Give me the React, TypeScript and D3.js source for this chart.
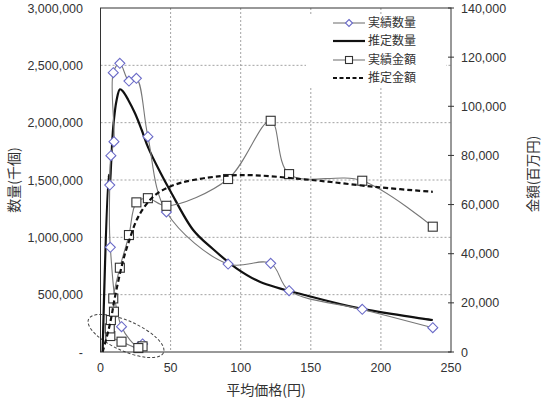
import React from "react";
import * as d3 from "d3";

// ---- data ----
const prices = [30.0, 27.0, 15.0, 7.0, 6.6, 7.4, 9.6, 9.1, 13.8, 20.3, 25.6, 33.8, 47.0, 91.0, 121.4, 134.5, 186.7, 237.0];
const actualQty = [70000, 45000, 221000, 913000, 1456000, 1712000, 1834000, 2436000, 2518000, 2363000, 2387000, 1878000, 1221000, 767000, 773000, 535000, 372000, 212000];
const actualAmount = [2300, 1600, 4200, 6500, 9600, 13000, 16400, 21800, 34300, 47600, 60900, 62600, 59500, 70400, 94100, 72400, 69700, 51000];

const estQtyPrice = [1.5, 5.8, 6.6, 7.6, 9.1, 11.5, 13.9, 16.2, 19.8, 24.6, 29.4, 34.1, 42.4, 50, 66.1, 80, 97, 113.6, 150.4, 184.8, 237];
const estQty = [0, 1544000, 1440000, 1650000, 1965000, 2198000, 2291000, 2270000, 2198000, 2082000, 1936000, 1780000, 1572000, 1400000, 1064000, 900000, 730000, 613000, 482000, 381000, 279000];

const estAmtPrice = [1.5, 5.6, 8, 10, 16.2, 20, 26.9, 37.6, 49.5, 66.1, 100, 150.4, 199, 237];
const estAmount = [0, 8600, 15000, 21500, 37400, 44500, 55000, 63200, 67300, 70000, 72000, 70000, 67000, 65200];

const xTicks = [0, 50, 100, 150, 200, 250];
const leftTicks = [0, 500000, 1000000, 1500000, 2000000, 2500000, 3000000];
const rightTicks = [0, 20000, 40000, 60000, 80000, 100000, 120000, 140000];
const legendLabels = ["実績数量", "推定数量", "実績金額", "推定金額"];
const xTitle = "平均価格(円)";
const leftTitle = "数量(千個)";
const rightTitle = "金額(百万円)";

const W = 543, H = 400;
const PL = 100.5, PR = 451, PT = 8, PB = 352;

const numFont = "'Liberation Sans', Arial, sans-serif";
const cjkFont = "'Noto Sans CJK JP', 'Noto Sans', sans-serif";
const textColor = "#333";

function Diamond({ cx, cy, r = 5 }: { cx: number; cy: number; r?: number }) {
  return (
    <path
      d={`M${cx},${cy - r}L${cx + r},${cy}L${cx},${cy + r}L${cx - r},${cy}Z`}
      fill="#fff"
      stroke="#6b6bc8"
      strokeWidth={1.1}
    />
  );
}

function Square({ cx, cy, s = 9 }: { cx: number; cy: number; s?: number }) {
  return <rect x={cx - s / 2} y={cy - s / 2} width={s} height={s} fill="#fff" stroke="#333" strokeWidth={1.1} />;
}

export default function App() {
  const x = d3.scaleLinear().domain([0, 250]).range([PL, PR]);
  const yL = d3.scaleLinear().domain([0, 3000000]).range([PB, PT]);
  const yR = d3.scaleLinear().domain([0, 140000]).range([PB, PT]);

  const curve = d3.curveCatmullRom.alpha(0.5);
  const lineL = d3
    .line<[number, number]>()
    .x((d) => x(d[0]))
    .y((d) => yL(d[1]))
    .curve(curve);
  const lineR = d3
    .line<[number, number]>()
    .x((d) => x(d[0]))
    .y((d) => yR(d[1]))
    .curve(curve);

  const actQtyPts: [number, number][] = prices.map((p, i) => [p, actualQty[i]]);
  const actAmtPts: [number, number][] = prices.map((p, i) => [p, actualAmount[i]]);
  const estQtyPts: [number, number][] = estQtyPrice.map((p, i) => [p, estQty[i]]);
  const estAmtPts: [number, number][] = estAmtPrice.map((p, i) => [p, estAmount[i]]);

  const fmt = d3.format(",");

  // legend geometry
  const lgX = 306, lgY = 14, lgW = 140, lgH = 74;
  const rowY = [23, 41, 60, 78];
  const symX1 = 333, symX2 = 365, txtX = 368;

  return (
    <svg width={W} height={H} style={{ position: "absolute", left: 0, top: 0, background: "#fff" }}>
      <rect x={0} y={0} width={W} height={H} fill="#fff" />
      {/* grid */}
      {xTicks
        .filter((t) => t > 0 && t < 250)
        .map((t) => (
          <line key={"gx" + t} x1={x(t)} x2={x(t)} y1={PT} y2={PB} stroke="#8a8a8a" strokeWidth={0.8} strokeDasharray="2,2" />
        ))}
      {leftTicks
        .filter((t) => t > 0 && t < 3000000)
        .map((t) => (
          <line key={"gy" + t} x1={PL} x2={PR} y1={yL(t)} y2={yL(t)} stroke="#8a8a8a" strokeWidth={0.8} strokeDasharray="2,2" />
        ))}

      {/* legend background */}
      <rect x={lgX} y={lgY} width={lgW} height={lgH} fill="#fff" />

      {/* ellipse */}
      <ellipse
        cx={126}
        cy={336}
        rx={41}
        ry={15}
        transform="rotate(24 126 336)"
        fill="none"
        stroke="#444"
        strokeWidth={1}
        strokeDasharray="3,2"
      />

      {/* estimated quantity (drawn under markers) */}
      <path d={lineL(estQtyPts) || ""} fill="none" stroke="#111" strokeWidth={2.2} />
      {/* actual quantity */}
      <path d={lineL(actQtyPts) || ""} fill="none" stroke="#777" strokeWidth={1.1} />
      {actQtyPts.map((d, i) => (
        <Diamond key={"dq" + i} cx={x(d[0])} cy={yL(d[1])} />
      ))}

      {/* actual amount */}
      <path d={lineR(actAmtPts) || ""} fill="none" stroke="#777" strokeWidth={1.1} />
      {actAmtPts.map((d, i) => (
        <Square key={"sq" + i} cx={x(d[0])} cy={yR(d[1])} />
      ))}
      {/* estimated amount */}
      <path d={lineR(estAmtPts) || ""} fill="none" stroke="#111" strokeWidth={2.2} strokeDasharray="5,3" />

      {/* frame */}
      <rect x={PL} y={PT} width={PR - PL} height={PB - PT} fill="none" stroke="#333" strokeWidth={1} />

      {/* right ticks */}
      {rightTicks.map((t) => (
        <line key={"rt" + t} x1={PR - 3} x2={PR + 3} y1={yR(t)} y2={yR(t)} stroke="#333" strokeWidth={1} />
      ))}

      {/* left tick labels */}
      {leftTicks.map((t) => (
        <text key={"lt" + t} x={83} y={yL(t) + 4.5} textAnchor="end" fontFamily={numFont} fontSize={12.5} fill={textColor}>
          {t === 0 ? "-" : fmt(t)}
        </text>
      ))}
      {/* right tick labels */}
      {rightTicks.map((t) => (
        <text key={"rl" + t} x={461} y={yR(t) + 4.5} textAnchor="start" fontFamily={numFont} fontSize={12.5} fill={textColor}>
          {fmt(t)}
        </text>
      ))}
      {/* x tick labels */}
      {xTicks.map((t) => (
        <text key={"xt" + t} x={x(t)} y={372} textAnchor="middle" fontFamily={numFont} fontSize={12.5} fill={textColor}>
          {t}
        </text>
      ))}

      {/* axis titles */}
      <text x={266} y={395} textAnchor="middle" fontFamily={cjkFont} fontSize={14} fill={textColor}>
        {xTitle}
      </text>
      <text
        transform="translate(13,180) rotate(-90)"
        textAnchor="middle"
        dominantBaseline="central"
        fontFamily={cjkFont}
        fontSize={14}
        fill={textColor}
      >
        {leftTitle}
      </text>
      <text
        transform="translate(532,174) rotate(-90)"
        textAnchor="middle"
        dominantBaseline="central"
        fontFamily={cjkFont}
        fontSize={13.5}
        fill={textColor}
      >
        {rightTitle}
      </text>

      {/* legend */}
      <g>
        <line x1={symX1} x2={symX2} y1={rowY[0]} y2={rowY[0]} stroke="#777" strokeWidth={1.1} />
        <Diamond cx={(symX1 + symX2) / 2} cy={rowY[0]} r={3.5} />
        <line x1={symX1} x2={symX2} y1={rowY[1]} y2={rowY[1]} stroke="#111" strokeWidth={2.2} />
        <line x1={symX1} x2={symX2} y1={rowY[2]} y2={rowY[2]} stroke="#777" strokeWidth={1.1} />
        <Square cx={(symX1 + symX2) / 2} cy={rowY[2]} s={7} />
        <line x1={symX1} x2={symX2} y1={rowY[3]} y2={rowY[3]} stroke="#111" strokeWidth={2.2} strokeDasharray="4,2.5" />
        {legendLabels.map((l, i) => (
          <text key={l} x={txtX} y={rowY[i] + 4.3} fontFamily={cjkFont} fontSize={12} fill={textColor}>
            {l}
          </text>
        ))}
      </g>
    </svg>
  );
}
